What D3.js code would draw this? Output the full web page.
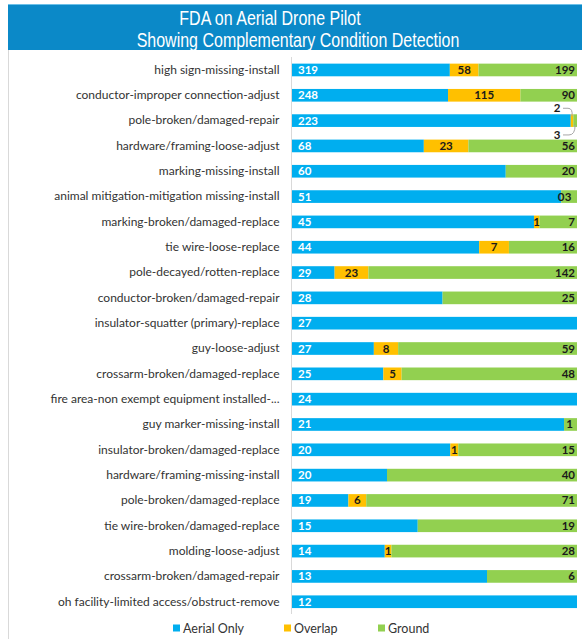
<!DOCTYPE html>
<html>
<head>
<meta charset="utf-8">
<script src="https://cdn.jsdelivr.net/npm/d3@7"></script>
<style>
  html, body { margin: 0; padding: 0; background: #ffffff; }
  svg { display: block; }
</style>
</head>
<body>
<svg id="chart" width="582" height="639"></svg>
<script>
// Work-order categories, top to bottom
const categories = [
  "high sign-missing-install",
  "conductor-improper connection-adjust",
  "pole-broken/damaged-repair",
  "hardware/framing-loose-adjust",
  "marking-missing-install",
  "animal mitigation-mitigation missing-install",
  "marking-broken/damaged-replace",
  "tie wire-loose-replace",
  "pole-decayed/rotten-replace",
  "conductor-broken/damaged-repair",
  "insulator-squatter (primary)-replace",
  "guy-loose-adjust",
  "crossarm-broken/damaged-replace",
  "fire area-non exempt equipment installed-...",
  "guy marker-missing-install",
  "insulator-broken/damaged-replace",
  "hardware/framing-missing-install",
  "pole-broken/damaged-replace",
  "tie wire-broken/damaged-replace",
  "molding-loose-adjust",
  "crossarm-broken/damaged-repair",
  "oh facility-limited access/obstruct-remove"
];

// Condition counts per source (null = no entry)
const aerialOnly = [319, 248, 223, 68, 60, 51, 45, 44, 29, 28, 27, 27, 25, 24, 21, 20, 20, 19, 15, 14, 13, 12];
const overlap    = [58, 115, 2, 23, null, 0, 1, 7, 23, null, null, 8, 5, null, null, 1, null, 6, null, 1, null, null];
const ground     = [199, 90, 3, 56, 20, 3, 7, 16, 142, 25, null, 59, 48, null, 1, 15, 40, 71, 19, 28, 6, null];

const seriesNames = ["Aerial Only", "Overlap", "Ground"];
const seriesColors = ["#00aeef", "#ffc000", "#92d050"];

const titleLines = ["FDA on Aerial Drone Pilot", "Showing Complementary Condition Detection"];

const svg = d3.select("#chart");
const W = 582, H = 639;

// Title band
svg.append("rect").attr("x", 8).attr("y", 4).attr("width", W - 8).attr("height", 46)
  .attr("fill", "#0b89c8");
svg.append("rect").attr("x", 8).attr("y", 4).attr("width", W - 8).attr("height", 1)
  .attr("fill", "#6cc0e8");
const titleFont = "'Liberation Sans', Arial, sans-serif";
[[270, 25], [298, 47]].forEach(([tx, ty], k) => {
  svg.append("text")
    .attr("transform", `translate(${tx},${ty}) scale(1,1.3)`)
    .attr("text-anchor", "middle").attr("fill", "#ffffff")
    .style("font-family", titleFont).style("font-size", "16px")
    .text(titleLines[k]);
});

// Frame line on the left
svg.append("line").attr("x1", 8.5).attr("x2", 8.5).attr("y1", 50).attr("y2", H)
  .attr("stroke", "#d9d9d9").attr("stroke-width", 1);

// Stacked data as shares of each row total
const rows = categories.map((c, i) => {
  const a = aerialOnly[i] || 0, o = overlap[i] || 0, g = ground[i] || 0;
  const t = a + o + g;
  return { cat: c, i, vals: [aerialOnly[i], overlap[i], ground[i]], a: a / t, o: o / t, g: g / t };
});
const stack = d3.stack().keys(["a", "o", "g"]);
const layers = stack(rows);

const x = d3.scaleLinear().domain([0, 1]).range([292, 577]);
const y = d3.scaleBand().domain(categories).range([57.3, 614.4]).paddingInner(0.5).paddingOuter(0.25);

// Category axis
const yAxis = d3.axisLeft(y).tickSize(0).tickPadding(12);
const gy = svg.append("g").attr("transform", `translate(${x(0) - 0.5},0)`).call(yAxis);
gy.select(".domain").attr("stroke", "#d9d9d9").attr("d", `M0,57V614`);
gy.selectAll("text")
  .style("font-family", "Lato, 'Open Sans', sans-serif").style("font-size", "12px")
  .attr("fill", "#333333");

// Bars
layers.forEach((layer, k) => {
  svg.append("g").selectAll("rect").data(layer).join("rect")
    .attr("x", d => x(d[0]))
    .attr("y", d => y(d.data.cat))
    .attr("width", d => x(d[1]) - x(d[0]))
    .attr("height", y.bandwidth())
    .attr("fill", seriesColors[k]);
});

// Value labels
const lblFont = "Lato, 'Open Sans', sans-serif";
const lbl = svg.append("g").style("font-family", lblFont).style("font-size", "11.5px").style("font-weight", "bold");
const calloutRow = 2; // row whose small segments are labelled outside the bar

rows.forEach((r, i) => {
  const cy = y(r.cat) + y.bandwidth() / 2 + 4;
  const [a, o, g] = r.vals;
  const s = layers.map(L => L[i]);
  if (a != null) {
    lbl.append("text").attr("x", x(0) + 6).attr("y", cy).attr("fill", "#ffffff").text(a);
  }
  if (i === calloutRow) return;
  if (o != null) {
    lbl.append("text").attr("x", (x(s[1][0]) + x(s[1][1])) / 2).attr("y", cy)
      .attr("text-anchor", "middle").attr("fill", "#1a1a1a").text(o);
  }
  if (g != null) {
    const gw = x(s[2][1]) - x(s[2][0]);
    if (gw < 18) {
      // narrow segment: label sits near the middle of the segment
      lbl.append("text").attr("x", (x(s[2][0]) + x(s[2][1])) / 2 - 1).attr("y", cy)
        .attr("text-anchor", "middle").attr("fill", "#1a1a1a").text(g);
    } else {
      lbl.append("text").attr("x", x(1) - 2).attr("y", cy)
        .attr("text-anchor", "end").attr("fill", "#1a1a1a").text(g);
    }
  }
});

// Callout labels with leader lines for the narrow segments
{
  const r = rows[calloutRow];
  const s = layers.map(L => L[calloutRow]);
  const top = y(r.cat), bot = top + y.bandwidth();
  const oMid = (x(s[1][0]) + x(s[1][1])) / 2;
  const gMid = (x(s[2][0]) + x(s[2][1])) / 2;
  lbl.append("text").attr("x", 557).attr("y", top - 2).attr("text-anchor", "middle")
    .attr("fill", "#1a1a1a").text(r.vals[1]);
  lbl.append("text").attr("x", 557).attr("y", bot + 12).attr("text-anchor", "middle")
    .attr("fill", "#1a1a1a").text(r.vals[2]);
  svg.append("path")
    .attr("d", `M563,${top - 6} L568,${top - 6} Q${oMid + 1},${top - 6} ${oMid},${top + 2}`)
    .attr("fill", "none").attr("stroke", "#a6a6a6").attr("stroke-width", 1);
  svg.append("path")
    .attr("d", `M563,${bot + 8} L569,${bot + 8} Q${gMid},${bot + 8} ${gMid},${bot - 2}`)
    .attr("fill", "none").attr("stroke", "#a6a6a6").attr("stroke-width", 1);
}

// Legend
const legendX = [173, 284, 378];
const lg = svg.append("g");
seriesNames.forEach((n, k) => {
  lg.append("rect").attr("x", legendX[k]).attr("y", 624.5).attr("width", 7).attr("height", 7)
    .attr("fill", seriesColors[k]);
  lg.append("text").attr("x", legendX[k] + 10).attr("y", 632.5)
    .style("font-family", "Lato, 'Open Sans', sans-serif").style("font-size", "12.5px")
    .attr("fill", "#333333").text(n);
});
</script>
</body>
</html>
